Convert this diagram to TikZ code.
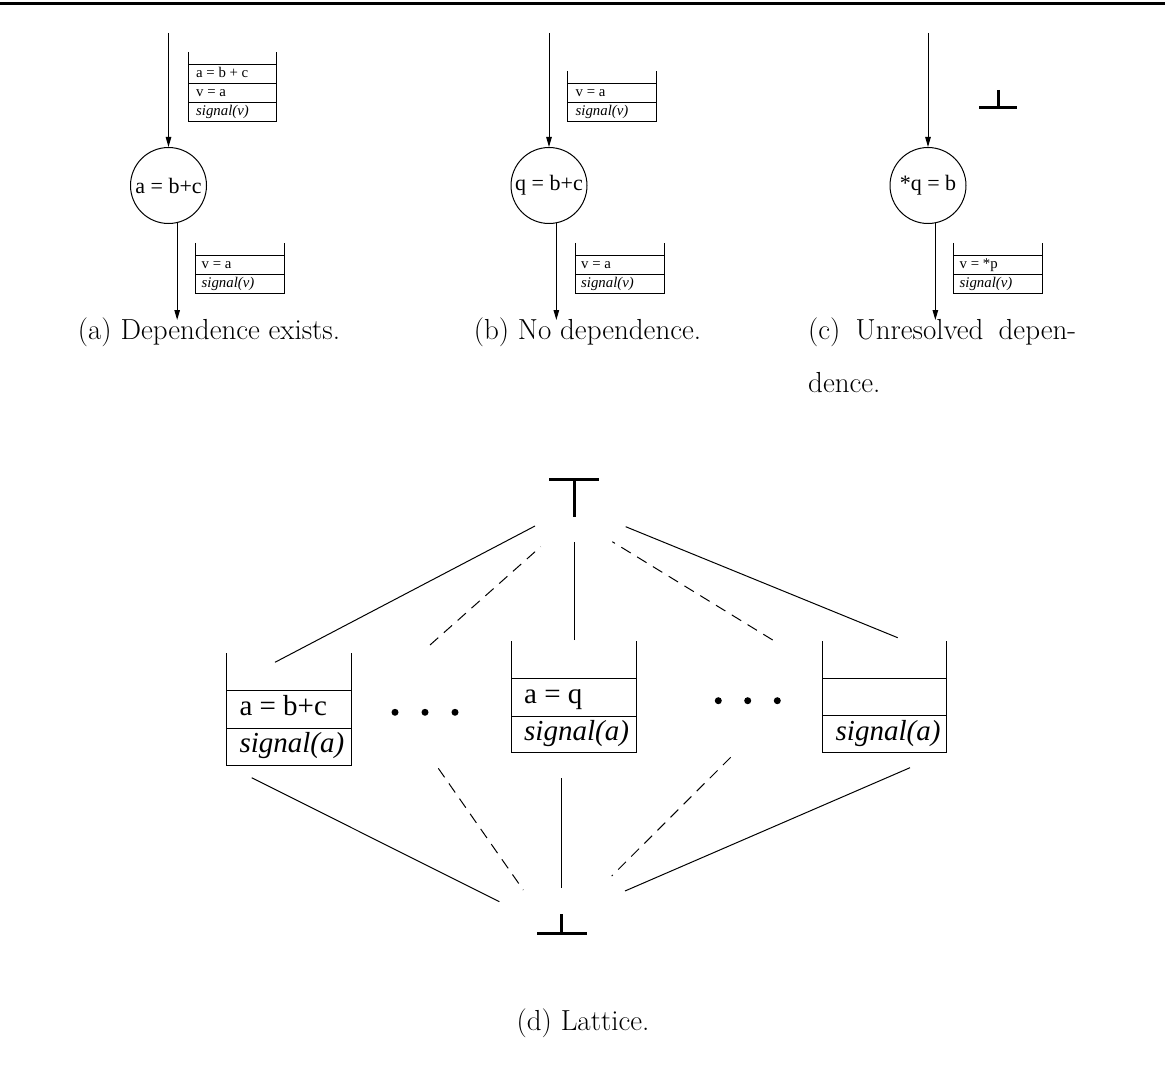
\documentclass[tikz,border=0pt]{standalone}
\usepackage{fontspec}
\newfontfamily\tms{Liberation Serif}
\usetikzlibrary{arrows.meta}
\newcommand\smallfig{\tms\fontsize{14.8}{17}\selectfont}
\newcommand\circfig{\tms\fontsize{22}{26}\selectfont}
\newcommand\latfig{\tms\fontsize{29}{34}\selectfont}
\newcommand\capfont{\fontsize{29}{34}\selectfont}
% open-topped stack: left x, right x, top of sides, bottom, row dividers
\newcommand\figstack[5]{%
  \draw[wire] (#1,#3) -- (#1,#4) -- (#2,#4) -- (#2,#3);
  \foreach \yy in {#5} \draw[wire] (#1,\yy) -- (#2,\yy);}
\tikzset{
  wire/.style={line width=1pt},
  arr/.style={wire,-{Triangle[length=10pt,width=5.5pt]}},
  opnode/.style={draw,circle,minimum size=76pt,inner sep=0pt,line width=1pt,font=\circfig},
  cell/.style={anchor=base west,inner sep=0pt,font=\smallfig},
  bigcell/.style={anchor=base west,inner sep=0pt,font=\latfig},
  dashedge/.style={wire,dash pattern=on 11pt off 7.5pt},
  glyph/.style={line width=3pt},
  caption/.style={anchor=base,inner sep=0pt,font=\capfont},
}
\begin{document}
\begin{tikzpicture}[x=1pt,y=-1pt]
\useasboundingbox (0,0) rectangle (1165,1078);
\draw[glyph] (0,4) -- (1165,4);

% ---------- (a) ----------
\node[opnode] (ca) at (168.5,185.5) {a = b+c};
\coordinate (ain) at (168.5,33);
\coordinate (aout) at (177,320);
\draw[arr] (ain) -- (ca.north);
\draw[arr] (ca.-77) -- (ca.-77 |- aout);
\figstack{188.3}{276.7}{52}{121.7}{65,84,103}
\node[cell] (a1) at (196,77.5) {a = b + c};
\node[cell] (a2) at (196,96.5) {v = a};
\node[cell] (a3) at (196,115.3) {\itshape signal(v)};
\figstack{195.7}{284.3}{243}{293.3}{256,274.3}
\node[cell] (a4) at (201.5,268.5) {v = a};
\node[cell] (a5) at (201.5,287.3) {\itshape signal(v)};
\node[caption] (capa) at (209,339) {(a) Dependence exists.};

% ---------- (b) ----------
\node[opnode] (cb) at (549,185.5) {q = b+c};
\coordinate (bin) at (549,33);
\coordinate (bout) at (556,320);
\draw[arr] (bin) -- (cb.north);
\draw[arr] (cb.-79) -- (cb.-79 |- bout);
\figstack{567.7}{656.7}{71}{121.7}{83.3,102.7}
\node[cell] (b1) at (575.5,96.3) {v = a};
\node[cell] (b2) at (575.5,115.3) {\itshape signal(v)};
\figstack{575}{664.3}{243}{293.3}{256,274.3}
\node[cell] (b3) at (581,268.5) {v = a};
\node[cell] (b4) at (581,287.3) {\itshape signal(v)};
\node[caption] (capb) at (587.5,339) {(b) No dependence.};

% ---------- (c) ----------
\node[opnode] (cc) at (928,185.5) {*q = b};
\coordinate (cin) at (928,33);
\coordinate (cout) at (935,320);
\draw[arr] (cin) -- (cc.north);
\draw[arr] (cc.-79) -- (cc.-79 |- cout);
\draw[glyph] (979,108) -- (1017.3,108);
\draw[glyph] (998,90) -- (998,108);
\figstack{953.3}{1042.7}{243}{293.3}{255.5,274.3}
\node[cell] (c1) at (959.5,268.5) {v = *p};
\node[cell] (c2) at (959.5,287.3) {\itshape signal(v)};
\node[caption,anchor=base west] (capc) at (808,339) {\makebox[268pt][s]{(c) Unresolved depen-}};
\node[caption,anchor=base west] (capc2) at (808,392) {dence.};

% ---------- (d) lattice ----------
\draw[glyph] (549.3,479.3) -- (599,479.3);
\draw[glyph] (574,479.3) -- (574,517);
\draw[glyph] (561.7,914) -- (561.7,933);
\draw[glyph] (537,933) -- (587,933);

\figstack{226.7}{351}{653.3}{765}{690.7,728.3}
\node[bigcell] (l1) at (239.3,715.5) {a = b+c};
\node[bigcell] (l2) at (239.3,752) {\itshape signal(a)};
\figstack{511.7}{636}{641}{752.7}{678.3,716}
\node[bigcell] (l3) at (524,703.3) {a = q};
\node[bigcell] (l4) at (524,740) {\itshape signal(a)};
\figstack{822.3}{946.7}{641}{752.7}{678.3,715.7}
\node[bigcell] (l5) at (835.5,740) {\itshape signal(a)};

\foreach \dx in {395,425,455} \fill (\dx,712.3) circle (3.5pt);
\foreach \dx in {718.3,747.7,777.3} \fill (\dx,700.7) circle (3.5pt);

% edges to top
\coordinate (t1) at (535,526);     \coordinate (s1) at (275,662.3);
\coordinate (t2) at (540.7,546.7); \coordinate (s2) at (430,645);
\coordinate (t3) at (574,541.7);   \coordinate (s3) at (574,640);
\coordinate (t4) at (612.3,541.7); \coordinate (s4) at (772.7,640);
\coordinate (t5) at (625.7,526.7); \coordinate (s5) at (897.7,637.7);
\draw[wire] (s1) -- (t1);
\draw[dashedge] (s2) -- (t2);
\draw[wire] (s3) -- (t3);
\draw[dashedge] (s4) -- (t4);
\draw[wire] (s5) -- (t5);
% edges to bottom
\coordinate (u1) at (251.7,777.7); \coordinate (v1) at (499.3,901.7);
\coordinate (u2) at (438.3,768.3); \coordinate (v2) at (523.3,890);
\coordinate (u3) at (561.7,778.3); \coordinate (v3) at (561.7,888.3);
\coordinate (u4) at (730.7,757.3); \coordinate (v4) at (611.7,876);
\coordinate (u5) at (910,767.7);   \coordinate (v5) at (625,891);
\draw[wire] (u1) -- (v1);
\draw[dashedge] (u2) -- (v2);
\draw[wire] (u3) -- (v3);
\draw[dashedge] (u4) -- (v4);
\draw[wire] (u5) -- (v5);

\node[caption] (capd) at (583,1030) {(d) Lattice.};
\end{tikzpicture}
\end{document}
